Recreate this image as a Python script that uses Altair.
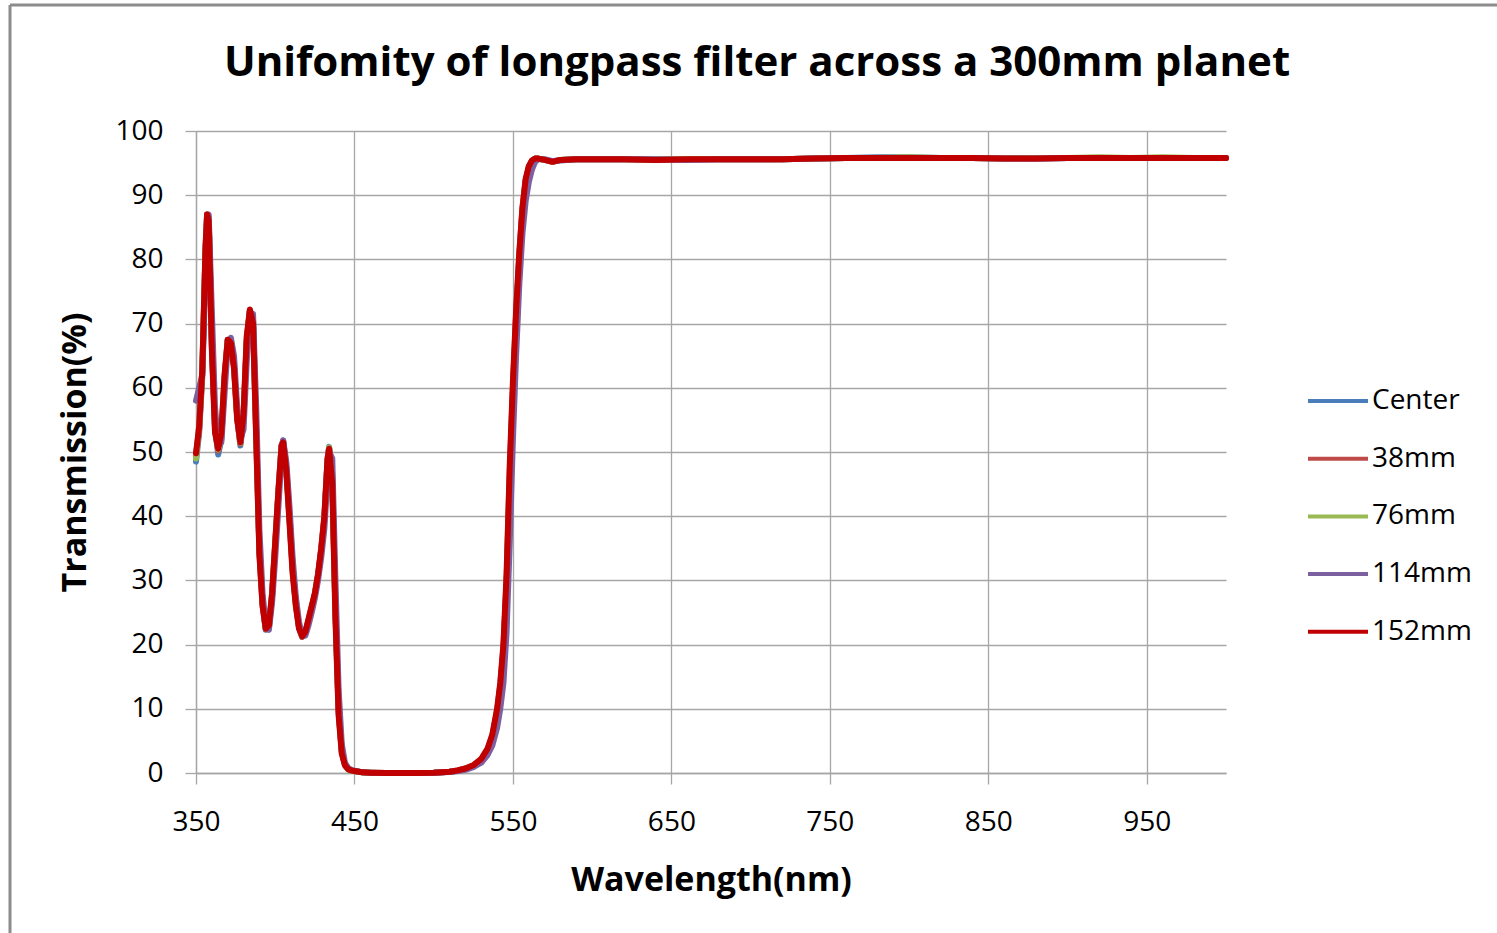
import altair as alt
import pandas as pd

wavelength = [350, 352, 354, 356, 357, 358,
              360, 362, 364, 366, 368, 370, 372, 374, 376, 378, 380, 382, 384, 386, 388, 390,
              392, 394, 396, 398, 400, 402, 404, 405,
              407, 409, 411, 413, 415, 417, 419, 421, 423, 425, 427, 429, 431, 433, 434,
              436, 438, 440, 442, 444, 446, 448, 450, 455, 460,
              470, 480, 490, 500, 510, 515, 520, 525, 530, 534, 537,
              540, 542, 544, 546, 548, 550, 552, 554, 556, 558, 560, 562, 564, 566,
              570, 575, 580, 590, 600,
              620, 640, 660, 680, 700, 720, 740, 760, 780, 800, 820, 840, 860, 880, 900,
              920, 940, 960, 980, 1000]

center = [48.5, 53, 62, 81, 87, 86.5,
          67, 54, 49.6, 52, 61, 67.5, 67.2, 63.5, 55.5, 51, 55, 67, 72, 70.5, 53, 35,
          26.5, 22.3, 22.6, 27.5, 35.5, 43.5, 51, 51.8,
          47.5, 40, 32, 26.5, 22.8, 21.2, 21.8, 23.7, 25.7, 27.8, 30.7, 34.6, 39.5, 48.5, 50.8,
          46, 25.5, 10, 3.4, 1.3, 0.6, 0.4, 0.3, 0.1, 0.05,
          0, 0, 0, 0.05, 0.2, 0.35, 0.6, 1.1, 2, 3.5, 5.5,
          9, 13, 18.5, 29, 45, 59, 70.5, 80, 87.5, 92, 94.3, 95.3, 95.7, 95.7,
          95.5, 95.3, 95.5, 95.6, 95.6,
          95.6, 95.6, 95.6, 95.6, 95.6, 95.6, 95.7, 95.8, 95.9, 95.9, 95.8, 95.8, 95.7, 95.7, 95.8,
          95.8, 95.8, 95.8, 95.8, 95.8]

mm38 = [49.5, 53.5, 62.5, 81.5, 87, 86.2,
        66.5, 53.5, 50.2, 52.5, 61.5, 67.4, 67.1, 63.2, 55.2, 51.3, 55.5, 67.5, 72.1, 70.2, 52.5, 34.5,
        26.2, 22.4, 22.8, 27.8, 35.8, 43.8, 51, 51.6,
        47.2, 39.5, 31.5, 26.2, 22.6, 21.2, 21.9, 23.8, 25.8, 27.9, 30.8, 34.8, 39.8, 48.8, 50.6,
        45.5, 24.8, 9.5, 3.2, 1.2, 0.6, 0.4, 0.3, 0.1, 0.05,
        0, 0, 0, 0.05, 0.2, 0.4, 0.7, 1.2, 2.1, 3.7, 5.8,
        9.7, 13.6, 19.5, 30, 47, 60, 71.5, 80.5, 88, 92.3, 94.4, 95.4, 95.7, 95.7,
        95.5, 95.2, 95.5, 95.6, 95.6,
        95.6, 95.5, 95.6, 95.6, 95.6, 95.6, 95.7, 95.8, 95.8, 95.8, 95.8, 95.8, 95.7, 95.7, 95.8,
        95.8, 95.8, 95.8, 95.8, 95.8]

mm76 = [49, 54, 63, 81, 86.5, 86.5,
        68, 55, 50.4, 52.3, 61, 67.3, 67.3, 63.6, 55.6, 51.4, 55, 67, 72, 70.6, 53.5, 35.5,
        26.8, 22.6, 22.7, 27.4, 35.2, 43.2, 50.6, 51.7,
        47.6, 40.2, 32.2, 26.6, 22.9, 21.3, 21.8, 23.6, 25.6, 27.7, 30.6, 34.4, 39.3, 48.2, 50.7,
        46.5, 26, 10.5, 3.6, 1.3, 0.6, 0.4, 0.3, 0.1, 0.05,
        0, 0, 0, 0.05, 0.2, 0.37, 0.65, 1.1, 2, 3.5, 5.5,
        9.2, 13, 18.8, 29, 45.5, 59, 70.5, 80, 87.3, 91.8, 94.2, 95.3, 95.7, 95.7,
        95.5, 95.2, 95.5, 95.6, 95.6,
        95.6, 95.6, 95.6, 95.6, 95.6, 95.6, 95.7, 95.8, 95.8, 95.9, 95.8, 95.8, 95.7, 95.8, 95.8,
        95.9, 95.8, 95.9, 95.8, 95.8]

mm114 = [58, 60, 62, 78, 85, 87,
         72, 57, 51, 51.5, 59, 66.5, 67.8, 65, 57, 52, 53.5, 64, 71.5, 71.5, 57, 38,
         28, 23, 22.3, 26.5, 33.5, 41.5, 49.5, 51.8,
         48.5, 41.5, 33.5, 27.5, 23.5, 21.5, 21.4, 23, 25, 27.2, 30, 33.5, 38, 46, 50,
         49, 30, 13, 4.5, 1.6, 0.8, 0.5, 0.35, 0.12, 0.05,
         0, 0, 0, 0.04, 0.15, 0.3, 0.5, 0.9, 1.6, 2.8, 4.3,
         7, 10, 14, 22, 36, 52, 65, 76, 84, 89, 92, 94, 95.2, 95.6,
         95.6, 95.3, 95.4, 95.6, 95.6,
         95.6, 95.6, 95.5, 95.6, 95.6, 95.6, 95.7, 95.8, 95.8, 95.8, 95.8, 95.8, 95.7, 95.7, 95.8,
         95.8, 95.8, 95.8, 95.8, 95.8]

mm152 = [49.8, 54, 63, 82, 87, 86,
         66, 53, 50.5, 53, 62, 67.5, 67, 63, 55, 51.5, 56, 68, 72.2, 70, 52, 34,
         26, 22.5, 23, 28, 36, 44, 51, 51.5,
         47, 39, 31, 26, 22.5, 21.3, 22, 24, 26, 28, 31, 35, 40, 49, 50.5,
         45, 24, 9, 3, 1.2, 0.6, 0.4, 0.3, 0.1, 0.05,
         0, 0, 0, 0.05, 0.2, 0.4, 0.7, 1.2, 2.2, 3.8, 6,
         10, 14, 20, 31, 48, 61, 72, 81, 88, 92.5, 94.5, 95.4, 95.7, 95.7,
         95.5, 95.2, 95.5, 95.6, 95.6,
         95.6, 95.5, 95.6, 95.6, 95.6, 95.6, 95.7, 95.8, 95.8, 95.8, 95.8, 95.8, 95.7, 95.7, 95.8,
         95.8, 95.8, 95.8, 95.8, 95.8]

series_names = ["Center", "38mm", "76mm", "114mm", "152mm"]
series_values = [center, mm38, mm76, mm114, mm152]
series_colors = ["#4a7ebb", "#be4b48", "#98b954", "#7d60a0", "#c00000"]

x_ticks = [350, 450, 550, 650, 750, 850, 950]
y_ticks = [0, 10, 20, 30, 40, 50, 60, 70, 80, 90, 100]

chart_title = "Unifomity of longpass filter across a 300mm planet"

rows = []
for name, vals in zip(series_names, series_values):
    for w, t in zip(wavelength, vals):
        rows.append({"Series": name, "Wavelength": w, "Transmission": t})
df = pd.DataFrame(rows)
one = pd.DataFrame({"title": [chart_title]})

FONT = "Open Sans"
W, H = 1030, 642
PAD_L, PAD_T = 196, 131

lines = alt.Chart(df).mark_line(strokeWidth=6, strokeJoin="round", strokeCap="round").encode(
    x=alt.X("Wavelength:Q",
            scale=alt.Scale(domain=[350, 1000], nice=False, zero=False),
            axis=alt.Axis(values=x_ticks, title="Wavelength(nm)", labelPadding=24,
                          labelFlush=False, titlePadding=27)),
    y=alt.Y("Transmission:Q",
            scale=alt.Scale(domain=[0, 100], nice=False),
            axis=alt.Axis(values=y_ticks, title="Transmission(%)", labelPadding=22,
                          labelFlush=False, titlePadding=22)),
    color=alt.Color("Series:N",
                    scale=alt.Scale(domain=series_names, range=series_colors),
                    legend=alt.Legend(title=None, orient="none", legendX=1110, legendY=238,
                                      symbolType="stroke", symbolSize=3600,
                                      symbolStrokeWidth=4, labelFont=FONT, labelFontSize=28,
                                      labelColor="black", labelOffset=2, rowPadding=11.7)),
)

top_border = alt.Chart(one).mark_rule(color="#8c8c8c", strokeWidth=3).encode(
    x=alt.value(10 - PAD_L), x2=alt.value(1497 - PAD_L), y=alt.value(5 - PAD_T))
left_border = alt.Chart(one).mark_rule(color="#8c8c8c", strokeWidth=3).encode(
    x=alt.value(10 - PAD_L), y=alt.value(5 - PAD_T), y2=alt.value(933 - PAD_T))

title_text = alt.Chart(one).mark_text(
    font=FONT, fontSize=42, fontWeight="bold", color="black",
    align="center", baseline="alphabetic").encode(
    x=alt.value(757 - PAD_L), y=alt.value(76 - PAD_T), text="title:N")

chart = alt.layer(lines, top_border, left_border, title_text).properties(
    width=W, height=H,
    autosize=alt.AutoSizeParams(type="none"),
    padding={"left": PAD_L, "top": PAD_T, "right": 1497 - PAD_L - W, "bottom": 933 - PAD_T - H},
).configure(background="white").configure_view(stroke=None).configure_axis(
    gridColor="#a6a6a6", gridWidth=1.3, domainColor="#a6a6a6", domainWidth=1.3,
    tickColor="#a6a6a6", tickWidth=1.3, tickSize=11,
    labelFont=FONT, labelFontSize=28, labelColor="black",
    titleFont=FONT, titleFontSize=34, titleFontWeight="bold", titleColor="black",
)

chart.save("out.html", embed_options={"renderer": "svg", "actions": False})
